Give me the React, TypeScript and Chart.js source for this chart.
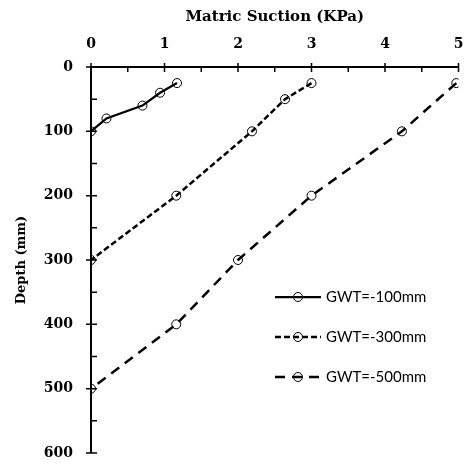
import React, { useEffect, useRef } from "react";
import { Chart, registerables } from "chart.js";

Chart.register(...registerables);

const seriesNames = ["GWT=-100mm", "GWT=-300mm", "GWT=-500mm"];
const suction100 = [1.17, 0.94, 0.7, 0.21, 0];
const depth100 = [25, 40, 60, 80, 100];
const suction300 = [3.0, 2.64, 2.19, 1.16, 0];
const depth300 = [25, 50, 100, 200, 300];
const suction500 = [4.97, 4.23, 3.0, 2.0, 1.16, 0];
const depth500 = [25, 100, 200, 300, 400, 500];
const xTitle = "Matric Suction (KPa)";
const yTitle = "Depth (mm)";

const toPts = (xs: number[], ys: number[]) => xs.map((x, i) => ({ x, y: ys[i] }));

const axesPlugin = {
  id: "customAxes",
  beforeDatasetsDraw(chart: any) {
    const ctx = chart.ctx;
    const xs = chart.scales.x;
    const ys = chart.scales.y;
    const { left, right, top, bottom } = chart.chartArea;
    ctx.save();
    ctx.strokeStyle = "#000";
    ctx.lineWidth = 2;
    ctx.beginPath();
    ctx.moveTo(left, top);
    ctx.lineTo(right, top);
    ctx.moveTo(left, top);
    ctx.lineTo(left, bottom);
    ctx.stroke();
    ctx.lineWidth = 1.5;
    ctx.beginPath();
    for (let v = xs.min; v <= xs.max + 1e-9; v += 0.5) {
      const px = xs.getPixelForValue(v);
      const major = Math.abs(v - Math.round(v)) < 1e-6;
      ctx.moveTo(px, major ? top - 4 : top);
      ctx.lineTo(px, top + 5);
    }
    for (let v = ys.min; v <= ys.max + 1e-9; v += 50) {
      const py = ys.getPixelForValue(v);
      const major = v % 100 === 0;
      ctx.moveTo(major ? left - 5 : left, py);
      ctx.lineTo(left + 6, py);
    }
    ctx.stroke();
    ctx.restore();
  },
};

const legendPlugin = {
  id: "customLegend",
  afterDraw(chart: any) {
    const ctx = chart.ctx;
    const rows = [297, 337, 377];
    ctx.save();
    chart.data.datasets.forEach((ds: any, i: number) => {
      const y = rows[i];
      ctx.strokeStyle = "#000";
      ctx.lineWidth = ds.borderWidth;
      ctx.setLineDash(ds.borderDash || []);
      ctx.beginPath();
      ctx.moveTo(275, y);
      ctx.lineTo(321, y);
      ctx.stroke();
      ctx.setLineDash([]);
      ctx.lineWidth = 1;
      ctx.beginPath();
      ctx.arc(298, y, 4.5, 0, Math.PI * 2);
      ctx.stroke();
      ctx.fillStyle = "#000";
      ctx.font = "15px Lato";
      ctx.textAlign = "left";
      ctx.textBaseline = "middle";
      ctx.fillText(ds.label, 326, y);
    });
    ctx.restore();
  },
};

export default function App() {
  const ref = useRef<HTMLCanvasElement>(null);
  useEffect(() => {
    document.body.style.margin = "0";
    const tickFont = { family: "DejaVu Serif", weight: "bold" as const, size: 14 };
    const common = {
      showLine: true,
      borderColor: "#000",
      pointBorderColor: "#000",
      pointBackgroundColor: "rgba(0,0,0,0)",
      pointBorderWidth: 1,
      pointRadius: 4.5,
      pointHoverRadius: 4.5,
      fill: false,
      tension: 0,
    };
    const chart = new Chart(ref.current!, {
      type: "scatter",
      data: {
        datasets: [
          { ...common, label: seriesNames[0], data: toPts(suction100, depth100), borderWidth: 2.25, borderDash: [] },
          { ...common, label: seriesNames[1], data: toPts(suction300, depth300), borderWidth: 2.5, borderDash: [6, 3] },
          { ...common, label: seriesNames[2], data: toPts(suction500, depth500), borderWidth: 2.5, borderDash: [10, 7] },
        ],
      },
      options: {
        responsive: false,
        animation: false,
        layout: { padding: { left: 0, top: 0, right: 3, bottom: 11 } },
        plugins: { legend: { display: false }, tooltip: { enabled: false } },
        scales: {
          x: {
            type: "linear",
            position: "top",
            min: 0,
            max: 5,
            ticks: { stepSize: 1, padding: 14, font: tickFont, color: "#000" },
            grid: { display: false, drawTicks: false },
            border: { display: false },
            title: {
              display: true,
              text: xTitle,
              color: "#000",
              font: { family: "DejaVu Serif", weight: "bold", size: 15 },
              padding: { top: 8, bottom: 0 },
            },
            afterFit: (s: any) => {
              s.height = 67;
              s.paddingLeft = 0;
              s.paddingRight = 0;
            },
          },
          y: {
            type: "linear",
            reverse: true,
            min: 0,
            max: 600,
            ticks: { stepSize: 100, padding: 18, font: tickFont, color: "#000" },
            grid: { display: false, drawTicks: false },
            border: { display: false },
            title: {
              display: true,
              text: yTitle,
              color: "#000",
              font: { family: "DejaVu Serif", weight: "bold", size: 13 },
              padding: { top: 14, bottom: 0 },
            },
            afterFit: (s: any) => {
              s.width = 91;
              s.paddingTop = 0;
              s.paddingBottom = 0;
            },
          },
        },
      },
      plugins: [axesPlugin, legendPlugin],
    } as any);
    return () => chart.destroy();
  }, []);
  return <canvas ref={ref} width={464} height={464} style={{ display: "block" }} />;
}
